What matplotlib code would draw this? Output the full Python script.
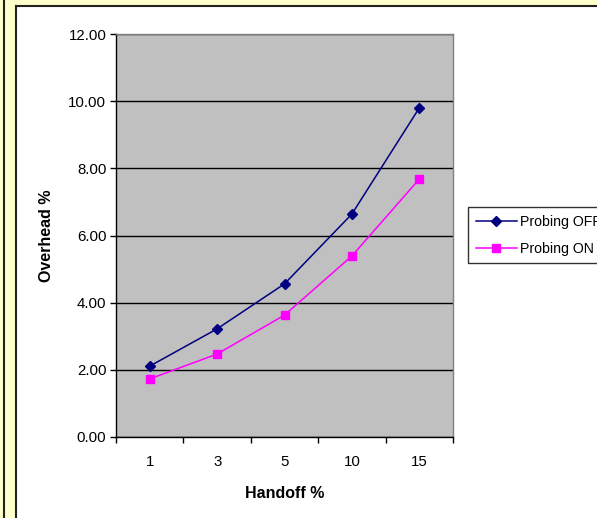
import matplotlib
matplotlib.use('Agg')
import matplotlib.pyplot as plt
from matplotlib.patches import Rectangle
from matplotlib.lines import Line2D

plt.rcParams['font.family'] = ['Liberation Sans', 'DejaVu Sans']

handoff = ['1', '3', '5', '10', '15']
probing_off = [2.11, 3.22, 4.56, 6.64, 9.80]
probing_on = [1.73, 2.47, 3.63, 5.39, 7.68]

W, H = 597, 518
fig = plt.figure(figsize=(W / 100, H / 100), dpi=100)
fig.patch.set_facecolor('#FFFFCC')

# white chart area with dark frame lines on the left and top
fig.patches.append(Rectangle((16 / W, 0), 1, (H - 6) / H, transform=fig.transFigure,
                             facecolor='white', edgecolor='none', zorder=-10))
fig.add_artist(Line2D([3.5 / W, 3.5 / W], [0, 1], transform=fig.transFigure,
                      color='#222222', lw=1.5, zorder=-5))
fig.add_artist(Line2D([15.5 / W, 15.5 / W], [0, (H - 5.5) / H], transform=fig.transFigure,
                      color='#222222', lw=1.5, zorder=-5))
fig.add_artist(Line2D([15.5 / W, 1], [(H - 5.5) / H, (H - 5.5) / H], transform=fig.transFigure,
                      color='#222222', lw=1.5, zorder=-5))

ax = fig.add_axes([116 / W, (H - 437) / H, 337 / W, 403 / H])
ax.set_facecolor('#C0C0C0')

x = range(len(handoff))
ax.plot(x, probing_off, color='#000080', lw=1.1, marker='D', markersize=5.5,
        label='Probing OFF', zorder=3)
ax.plot(x, probing_on, color='#FF00FF', lw=1.1, marker='s', markersize=6,
        label='Probing ON', zorder=3)

ax.set_xlim(-0.5, len(handoff) - 0.5)
ax.set_ylim(0, 12)
ax.set_yticks([0, 2, 4, 6, 8, 10, 12])
ax.set_yticklabels(['%.2f' % v for v in [0, 2, 4, 6, 8, 10, 12]])
ax.yaxis.grid(True, color='black', lw=1)
ax.set_axisbelow(True)

ax.set_xticks(list(x))
ax.set_xticklabels(handoff)
ax.set_xticks([i + 0.5 for i in range(-1, len(handoff))], minor=True)
ax.tick_params(axis='x', which='major', length=0, pad=13, labelsize=10.8)
ax.tick_params(axis='x', which='minor', length=4, width=1, direction='out', color='black')
ax.tick_params(axis='y', length=4, width=1, direction='out', pad=3, labelsize=10.8)

ax.spines['left'].set_color('black')
ax.spines['bottom'].set_color('black')
ax.spines['top'].set_color('#808080')
ax.spines['right'].set_color('#808080')
for s in ax.spines.values():
    s.set_linewidth(1)

ax.set_xlabel('Handoff %', fontweight='bold', fontsize=11.5, labelpad=12)
ax.set_ylabel('Overhead %', fontweight='bold', fontsize=11.5, labelpad=10)

leg = ax.legend(loc='upper left', bbox_to_anchor=(468 / W, (H - 207) / H),
                bbox_transform=fig.transFigure, frameon=True, fancybox=False,
                fontsize=10.2, handlelength=2.9, handletextpad=0.2, borderpad=0.55,
                labelspacing=0.9, borderaxespad=0)
leg.get_frame().set_edgecolor('black')
leg.get_frame().set_linewidth(1)

fig.savefig('out.png', dpi=100, facecolor=fig.get_facecolor())
